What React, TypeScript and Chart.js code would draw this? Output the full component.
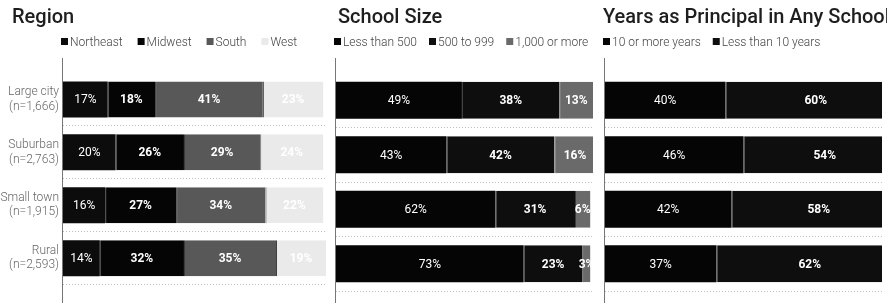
import React, { useEffect, useRef } from "react";
import { Chart, registerables } from "chart.js";

Chart.register(...registerables);

// ---- Data ----
const categories: string[][] = [
  ["Large city", "(n=1,666)"],
  ["Suburban", "(n=2,763)"],
  ["Small town", "(n=1,915)"],
  ["Rural", "(n=2,593)"],
];

const regionLabels = ["Northeast", "Midwest", "South", "West"];
const northeast = [17, 20, 16, 14];
const midwest = [18, 26, 27, 32];
const south = [41, 29, 34, 35];
const west = [23, 24, 22, 19];

const sizeLabels = ["Less than 500", "500 to 999", "1,000 or more"];
const lessThan500 = [49, 43, 62, 73];
const from500to999 = [38, 42, 31, 23];
const over1000 = [13, 16, 6, 3];

const yearsLabels = ["10 or more years", "Less than 10 years"];
const tenOrMore = [40, 46, 42, 37];
const lessThanTen = [60, 54, 58, 62];

// ---- Styles ----
const FONT = "Roboto, 'Noto Sans', sans-serif";
const H = 303;

type PanelProps = {
  left: number;
  width: number;
  title: string;
  titleX: number;
  labels: string[];
  series: number[][];
  colors: string[];
  axisWidth: number;
  padRight: number;
  xMax: number;
  showTicks: boolean;
  legendGap: number;
};

function makeDecor(title: string, titleX: number, colors: string[], legendGap: number) {
  return {
    id: "decor",
    afterDraw(chart: any) {
      const ctx = chart.ctx as CanvasRenderingContext2D;
      const a = chart.chartArea;
      ctx.save();
      // Title
      ctx.font = `500 20px ${FONT}`;
      ctx.fillStyle = "#1e1e1e";
      ctx.textAlign = "left";
      ctx.textBaseline = "alphabetic";
      ctx.fillText(title, titleX, 23);
      // Legend
      ctx.font = `300 12px ${FONT}`;
      let x = a.left - 2;
      chart.data.datasets.forEach((ds: any, i: number) => {
        ctx.fillStyle = colors[i];
        ctx.fillRect(x, 38, 7, 7);
        x += 9;
        ctx.fillStyle = "#444";
        ctx.fillText(ds.label, x, 46);
        x += ctx.measureText(ds.label).width + legendGap;
      });
      // Vertical axis line
      ctx.strokeStyle = "#777";
      ctx.lineWidth = 1;
      ctx.beginPath();
      ctx.moveTo(a.left - 0.5, 58);
      ctx.lineTo(a.left - 0.5, chart.height);
      ctx.stroke();
      // Value labels
      ctx.textAlign = "center";
      ctx.textBaseline = "middle";
      ctx.fillStyle = "#ffffff";
      chart.data.datasets.forEach((ds: any, i: number) => {
        const meta = chart.getDatasetMeta(i);
        ctx.font = `${i === 0 ? 400 : 700} 12px ${FONT}`;
        meta.data.forEach((bar: any, j: number) => {
          const p = bar.getProps(["x", "base", "y"], true);
          ctx.fillText(`${ds.data[j]}%`, (p.x + p.base) / 2, p.y + 1);
        });
      });
      ctx.restore();
    },
  };
}

function Panel(props: PanelProps) {
  const ref = useRef<HTMLCanvasElement | null>(null);
  useEffect(() => {
    if (!ref.current) return;
    const chart = new Chart(ref.current, {
      type: "bar",
      data: {
        labels: categories,
        datasets: props.series.map((data, i) => ({
          label: props.labels[i],
          data,
          backgroundColor: props.colors[i],
          borderColor: "#3a3a3a",
          borderWidth: i === 0 ? 0 : { left: 1, right: 0, top: 0, bottom: 0 },
          borderSkipped: false,
          barPercentage: 0.68,
          categoryPercentage: 1,
        })),
      },
      options: {
        indexAxis: "y",
        responsive: false,
        animation: false,
        layout: { padding: { top: 73, bottom: 12, left: 0, right: props.padRight } },
        plugins: { legend: { display: false }, tooltip: { enabled: false }, title: { display: false } },
        scales: {
          x: { stacked: true, min: 0, max: props.xMax, display: false },
          y: {
            stacked: true,
            afterFit: (scale: any) => {
              scale.width = props.axisWidth;
            },
            ticks: {
              display: props.showTicks,
              padding: 4,
              color: "#666",
              font: { family: FONT, size: 12, weight: 300, lineHeight: 1.2 },
            },
            grid: {
              drawTicks: false,
              color: (c: any) => (c.index === 0 || c.index === 4 ? "rgba(0,0,0,0)" : "#bdbdbd"),
              lineWidth: 1,
            },
            border: { display: false, dash: [1, 2] },
          },
        },
      },
      plugins: [makeDecor(props.title, props.titleX, props.colors, props.legendGap)],
    } as any);
    return () => chart.destroy();
  }, []);
  return (
    <canvas
      ref={ref}
      width={props.width}
      height={H}
      style={{ position: "absolute", left: props.left, top: 0, width: props.width, height: H }}
    />
  );
}

export default function App() {
  return (
    <div
      style={{
        position: "fixed",
        left: 0,
        top: 0,
        width: 887,
        height: H,
        overflow: "hidden",
        background: "#fff",
      }}
    >
      <Panel
        left={0}
        width={330}
        title="Region"
        titleX={12}
        labels={regionLabels}
        series={[northeast, midwest, south, west]}
        colors={["#0c0c0c", "#050505", "#585858", "#eaeaea"]}
        axisWidth={63}
        padRight={4}
        xMax={100}
        showTicks={true}
        legendGap={15}
      />
      <Panel
        left={330}
        width={270}
        title="School Size"
        titleX={8}
        labels={sizeLabels}
        series={[lessThan500, from500to999, over1000]}
        colors={["#050505", "#0e0e0e", "#6a6a6a"]}
        axisWidth={6}
        padRight={7}
        xMax={100}
        showTicks={false}
        legendGap={12}
      />
      <Panel
        left={600}
        width={287}
        title="Years as Principal in Any School"
        titleX={3}
        labels={yearsLabels}
        series={[tenOrMore, lessThanTen]}
        colors={["#050505", "#0e0e0e"]}
        axisWidth={5}
        padRight={5}
        xMax={92}
        showTicks={false}
        legendGap={12}
      />
    </div>
  );
}
